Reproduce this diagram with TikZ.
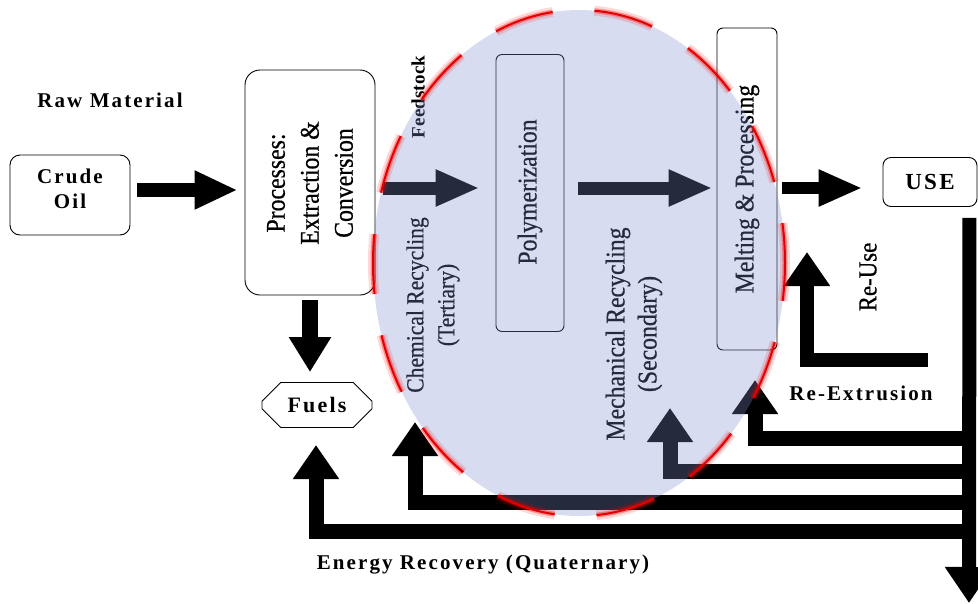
\documentclass[tikz,border=0pt]{standalone}
\usepackage{fontspec}
\setmainfont{Liberation Serif}
\newfontfamily\condfont[FakeStretch=0.88,FakeBold=0.6]{Liberation Serif}
\newfontfamily\widefont[LetterSpace=10]{Liberation Serif Bold}
\newfontfamily\featfont[LetterSpace=1]{Liberation Serif Bold}
\usetikzlibrary{arrows.meta,shapes.misc,calc}
\definecolor{ovblue}{RGB}{125,140,205}
\begin{document}
\begin{tikzpicture}[x=1pt,y=-1pt,
  box/.style={draw=black, line width=0.9pt, inner sep=0pt},
  lbl/.style={font={\widefont\fontsize{21}{25}\selectfont}, align=center, inner sep=0pt},
  rlbl/.style={font={\condfont\fontsize{27}{34}\selectfont}, align=center, rotate=90, inner sep=0pt},
  fatarrow/.style={line width=13pt, -{Triangle[length=44pt,width=34pt]}},
  backarrow/.style={line width=15pt, line join=miter, -{Triangle[length=34pt,width=44pt]}},
  ring/.style={dash pattern=on 60pt off 42pt, dash phase=20pt},
]
\useasboundingbox (0,0) rectangle (978,603);

% boxes
\node[box, rounded corners=10pt, minimum width=120pt, minimum height=80pt] (crude) at (70,195) {};
\node[lbl] (crudetxt) at (70,189) {Crude\\Oil};
\node[box, rounded corners=15pt, minimum width=130pt, minimum height=225pt] (proc) at (310,182.5) {};
\node[rlbl] (proctxt) at (310,183) {Processes:\\Extraction \&\\Conversion};
\node[box, chamfered rectangle, chamfered rectangle xsep=11pt, chamfered rectangle ysep=11pt,
      minimum width=110pt, minimum height=45pt, lbl, font={\widefont\fontsize{22}{24}\selectfont}] (fuels) at (317,405) {Fuels};
\node[box, rounded corners=6pt, minimum width=68pt, minimum height=277pt] (poly) at (530,193) {};
\node[rlbl] (polytxt) at (530,192) {Polymerization};
\node[box, rounded corners=6pt, minimum width=60pt, minimum height=322pt] (melt) at (747,189) {};
\node[rlbl] (melttxt) at (747,189) {Melting \& Processing};
\node[box, rounded corners=8pt, minimum width=94pt, minimum height=49pt] (use) at (930,182) {};
\node[lbl, font={\widefont\fontsize{23}{24}\selectfont}] (usetxt) at (930,182) {USE};

% labels
\node[lbl] (raw) at (110,100) {Raw Material};
\node[font={\featfont\fontsize{19}{20}\selectfont}, rotate=90, inner sep=0pt] (feed) at (418,97) {Feedstock};
\node[rlbl, font={\condfont\fontsize{24.5}{31}\selectfont}] (chem) at (433,305) {Chemical Recycling\\(Tertiary)};
\node[rlbl, font={\condfont\fontsize{27}{32}\selectfont}] (mech) at (634,334) {Mechanical Recycling\\(Secondary)};
\node[rlbl, font={\condfont\fontsize{26}{30}\selectfont}] (reuse) at (868,277) {Re-Use};
\node[lbl] (reext) at (861,393) {Re-Extrusion};
\node[lbl] (energy) at (483,565) {Energy Recovery (Quaternary)};

% main flow arrows
\draw[fatarrow, line width=14pt, -{Triangle[length=43pt,width=36pt]}] ($(crude.east)+(7,-5)$) -- ($(proc.west |- crude.east)+(-7,-5)$);
\draw[line width=16pt, -{Triangle[length=35pt,width=40pt]}] ($(proc.south)+(0,5)$) -- ($(proc.south |- fuels.north)+(0,-10)$);
\draw[fatarrow] ($(proc.east)+(8,5.5)$) -- ($(poly.west)+(-16,-5)$);
\draw[fatarrow] ($(poly.east)+(14,-5)$) -- ($(melt.west)+(-4,-1)$);
\draw[fatarrow, line width=12pt] ($(melt.east)+(5,-1)$) -- ($(use.west)+(-20,6)$);

% return paths
\coordinate (out) at (969,603);
\coordinate (b1) at (969,438);
\coordinate (b2) at (969,471);
\coordinate (b3) at (969,502);
\coordinate (b4) at (969,531);
\coordinate (t1) at (755,380);
\coordinate (t2) at (670,408);
\coordinate (t3) at (415,422);
\coordinate (t4) at (316,445);
\coordinate (r0) at (928,360);
\coordinate (r1) at (807,252);
\draw[backarrow] (b1) -| (t1);
\draw[backarrow] (b2) -| (t2);
\draw[backarrow] (b3) -| (t3);
\draw[backarrow] (b4) -| (t4);
\draw[backarrow, line width=14pt] (r0) -| (r1);
\draw[line width=14pt, -{Triangle[length=36pt,width=46pt]}] ($(use.south east)+(-8,11)$) -- (out);

% translucent recycling ellipse
\fill[ovblue, fill opacity=0.3] (579,263) ellipse [x radius=206pt, y radius=253pt];
\draw[red, opacity=0.15, line width=10pt, ring] (579,263) ellipse [x radius=206pt, y radius=253pt];
\draw[red, opacity=0.35, line width=5pt, ring] (579,263) ellipse [x radius=206pt, y radius=253pt];
\draw[red!90!black, line width=2pt, ring] (579,263) ellipse [x radius=206pt, y radius=253pt];
\end{tikzpicture}
\end{document}
